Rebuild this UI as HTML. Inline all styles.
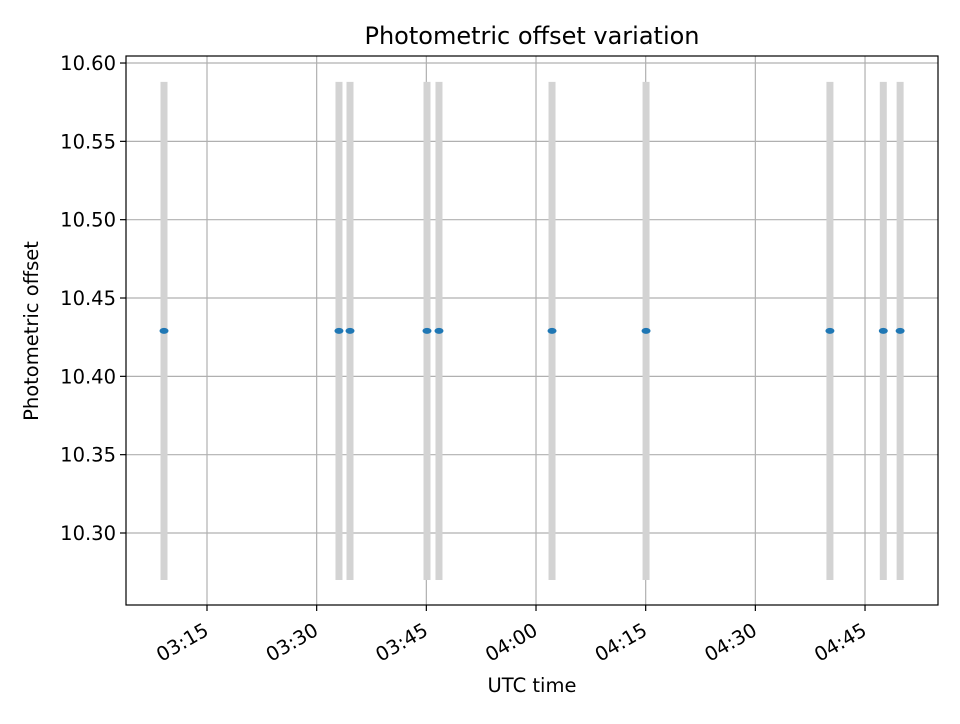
<!DOCTYPE html>
<html><head><meta charset="utf-8"><style>
body{margin:0;background:#fff;font-family:"DejaVu Sans","Liberation Sans",sans-serif;}
</style></head><body>
<svg width="960" height="720" xmlns="http://www.w3.org/2000/svg" font-family="'DejaVu Sans','Liberation Sans',sans-serif">
<rect width="960" height="720" fill="#fff"/>
<text x="532" y="44" text-anchor="middle" font-size="24">Photometric offset variation</text>
<g id="grid"></g>
<g id="bars"></g>
<g id="pts"></g>
<rect x="126" y="56" width="812" height="549" fill="none" stroke="#000" stroke-width="1.2"/>
<g id="axes" font-size="19.5"></g>
<text x="532" y="692" text-anchor="middle" font-size="19.5">UTC time</text>
<text transform="translate(38,331) rotate(-90)" text-anchor="middle" font-size="19.5">Photometric offset</text>
</svg>
<script>
// minutes after 03:00 UTC
const times=[9.12,33.05,34.56,45.09,46.73,62.19,75.05,100.2,107.5,109.8];
const offsets=[10.429,10.429,10.429,10.429,10.429,10.429,10.429,10.429,10.429,10.429];
const errors=[0.159,0.159,0.159,0.159,0.159,0.159,0.159,0.159,0.159,0.159];
const xTicks=[15,30,45,60,75,90,105];
const xTickLabels=["03:15","03:30","03:45","04:00","04:15","04:30","04:45"];
const yTicks=[10.30,10.35,10.40,10.45,10.50,10.55,10.60];
const yTickLabels=["10.30","10.35","10.40","10.45","10.50","10.55","10.60"];
const NS="http://www.w3.org/2000/svg";
const X=m=>207+(m-15)*109.67/15;
const Y=v=>533-(v-10.30)/0.05*78.33;
function mk(tag,attrs,parent){const e=document.createElementNS(NS,tag);for(const k in attrs)e.setAttribute(k,attrs[k]);document.getElementById(parent).appendChild(e);return e;}
xTicks.forEach((t,i)=>{
  const x=X(t);
  const g=mk('line',{x1:x,x2:x,y1:56,y2:605,stroke:'#b0b0b0','stroke-width':1.2},'grid');
  
  
  const tk=mk('line',{x1:x,x2:x,y1:605,y2:611,stroke:'#000','stroke-width':1.2},'axes');
  
  
  const tx=mk('text',{transform:`translate(${x+3},${634}) rotate(-30)`,'text-anchor':'end'},'axes');
  tx.textContent=xTickLabels[i];
  
  
});
yTicks.forEach((v,i)=>{
  const y=Y(v);
  const g=mk('line',{x1:126,x2:938,y1:y,y2:y,stroke:'#b0b0b0','stroke-width':1.2},'grid');
  
  
  const tk=mk('line',{x1:120,x2:126,y1:y,y2:y,stroke:'#000','stroke-width':1.2},'axes');
  
  
  const tx=mk('text',{x:116,y:y+7,'text-anchor':'end'},'axes');
  tx.textContent=yTickLabels[i];
  
  
});
times.forEach((t,i)=>{
  const x=X(t);
  const b=mk('line',{x1:x,x2:x,y1:Y(offsets[i]+errors[i]),y2:Y(offsets[i]-errors[i]),stroke:'#d3d3d3','stroke-width':7},'bars');
  
  
  const p=mk('ellipse',{cx:x,cy:Y(offsets[i]),rx:4.5,ry:3,fill:'#1f77b4'},'pts');
  
  
});
</script>
</body></html>
